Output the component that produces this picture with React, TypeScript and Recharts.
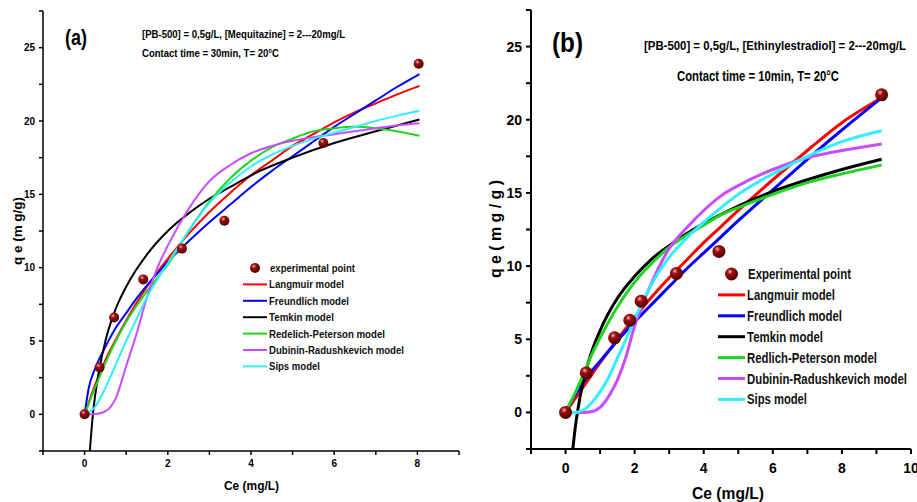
import React from "react";
import {
  ComposedChart,
  Line,
  Scatter,
  XAxis,
  YAxis,
} from "recharts";

const FONT = "'Liberation Sans', Arial, sans-serif";

// ---- panel (a) : Mequitazine ----
const aExpX = [0, 0.36, 0.71, 1.41, 2.34, 3.36, 5.74, 8.03];
const aExpY = [0, 3.2, 6.6, 9.2, 11.3, 13.2, 18.5, 23.9];

const aCurveX = [0, 0.25, 0.5, 0.75, 1, 1.25, 1.5, 1.75, 2, 2.5, 3, 3.5, 4, 4.5, 5, 5.5, 6, 6.5, 7, 7.5, 8.05];
const aLangmuir = [0, 2.0, 3.7, 5.1, 6.4, 7.6, 8.7, 9.7, 10.6, 12.3, 13.8, 15.1, 16.3, 17.3, 18.3, 19.1, 19.9, 20.6, 21.2, 21.8, 22.4];
const aRedlich = [0, 1.8, 3.5, 5.0, 6.3, 7.4, 8.4, 9.3, 10.2, 12.5, 14.5, 16.1, 17.3, 18.2, 18.8, 19.3, 19.5, 19.6, 19.5, 19.3, 19.0];
const aDubinin = [0, 0.02, 0.2, 1.1, 3.3, 5.5, 8.0, 10.0, 11.5, 14.0, 15.9, 17.0, 17.8, 18.3, 18.65, 18.9, 19.1, 19.3, 19.5, 19.7, 19.85];
const aSips = [0, 0.5, 1.8, 3.4, 5.0, 6.5, 8.0, 9.2, 10.3, 12.5, 14.4, 15.8, 16.9, 17.7, 18.3, 18.8, 19.2, 19.6, 20.0, 20.35, 20.7];

const aFreundX = [0, 0.1, 0.25, 0.5, 0.75, 1, 1.25, 1.5, 1.75, 2, 2.5, 3, 3.5, 4, 4.5, 5, 5.5, 6, 6.5, 7, 7.5, 8.05];
const aFreundlich = [0, 1.8, 3.1, 4.6, 5.9, 6.9, 7.9, 8.8, 9.6, 10.4, 11.8, 13.1, 14.3, 15.5, 16.6, 17.6, 18.6, 19.6, 20.5, 21.4, 22.3, 23.2];

const aTemkinX = [0.125, 0.2, 0.25, 0.35, 0.5, 0.75, 1, 1.5, 2, 2.5, 3, 3.5, 4, 5, 6, 7, 8.05];
const aTemkin = [-2.5, 0, 1.2, 3.0, 5.0, 7.2, 8.7, 10.9, 12.5, 13.7, 14.7, 15.5, 16.3, 17.5, 18.5, 19.3, 20.1];

// ---- panel (b) : Ethinylestradiol ----
const bExpX = [0, 0.6, 1.42, 1.86, 2.19, 3.21, 4.44, 9.15];
const bExpY = [0, 2.7, 5.1, 6.3, 7.6, 9.5, 11.0, 21.7];

const bCurveX = [0, 0.25, 0.5, 0.75, 1, 1.25, 1.5, 1.75, 2, 2.25, 2.5, 3, 3.5, 4, 4.5, 5, 6, 7, 8, 9.15];
const bLangmuir = [0, 0.85, 1.7, 2.55, 3.4, 4.2, 5.0, 5.75, 6.5, 7.2, 7.9, 9.2, 10.4, 11.6, 12.7, 13.8, 15.9, 17.9, 19.8, 21.5];
const bFreundlich = [0, 1.1, 2.0, 2.8, 3.5, 4.2, 4.9, 5.55, 6.2, 6.8, 7.4, 8.6, 9.8, 10.9, 12.0, 13.1, 15.2, 17.3, 19.3, 21.5];
const bRedlich = [0, 1.2, 2.5, 3.9, 5.1, 6.2, 7.2, 8.1, 8.9, 9.6, 10.2, 11.3, 12.1, 12.8, 13.5, 14.0, 14.9, 15.7, 16.3, 16.9];
const bDubinin = [0, 0, 0, 0.05, 0.35, 1.1, 2.2, 3.8, 5.9, 7.5, 8.9, 11.2, 12.6, 13.8, 14.8, 15.5, 16.6, 17.4, 17.9, 18.35];
const bSips = [0, 0, 0.15, 0.65, 1.4, 2.4, 3.7, 5.0, 6.4, 7.6, 8.8, 10.6, 11.9, 13.0, 14.0, 14.9, 16.3, 17.5, 18.5, 19.25];

const bTemkinX = [0.21, 0.3, 0.35, 0.5, 0.75, 1, 1.5, 2, 2.5, 3, 3.5, 4, 5, 6, 7, 8, 9.15];
const bTemkin = [-2.5, -0.7, 0.1, 2.0, 4.1, 5.6, 7.8, 9.3, 10.5, 11.4, 12.2, 12.9, 14.1, 15.1, 15.9, 16.6, 17.3];

// axis ticks
const aXTicks = [-1, 0, 1, 2, 3, 4, 5, 6, 7, 8, 9];
const bXTicks = [-1, 0, 1, 2, 3, 4, 5, 6, 7, 8, 9, 10];
const yTicks = [-2.5, 0, 2.5, 5, 7.5, 10, 12.5, 15, 17.5, 20, 22.5, 25, 27.5];

const legendA = ["experimental point", "Langmuir model", "Freundlich model", "Temkin model", "Redelich-Peterson model", "Dubinin-Radushkevich model", "Sips model"];
const legendB = ["Experimental point", "Langmuir model", "Freundlich model", "Temkin model", "Redlich-Peterson model", "Dubinin-Radushkevich model", "Sips model"];
// measured text widths (px) so the narrow bold look of the original is kept
const legendAW = [85, 75, 80, 65, 116, 135, 51];
const legendBW = [103, 88, 95, 76, 130, 160, 60];

const COLORS = ["#ff0000", "#0000ff", "#000000", "#22d422", "#c84cff", "#33eeff"];

const zip = (xs: number[], ys: number[]) => xs.map((x, i) => ({ x, y: ys[i] }));

const majorX = (v: number) => (v >= 0 && v % 2 === 0 ? String(v) : "");
const majorY = (v: number) => (v >= 0 && v % 5 === 0 ? String(v) : "");

function Ball({ cx, cy, r, id }: any) {
  return <circle cx={cx} cy={cy} r={r} fill={`url(#${id})`} />;
}

function Panel({ left, width, plotLeft, plotRight, top, bottom, xMax, xTicks, small, series, exp }: any) {
  const fs = small ? 10 : 14;
  const lw = small ? 2 : 3;
  const frame = small ? 1.5 : 2;
  const gid = small ? "ballA" : "ballB";
  const tick = { fontSize: fs, fontWeight: "bold", fill: "#000", fontFamily: FONT };
  return (
    <div style={{ position: "absolute", left, top: 0 }}>
      <ComposedChart
        width={width}
        height={502}
        margin={{ top, right: width - plotRight, bottom: 502 - bottom - 40, left: 0 }}
      >
        <defs>
          <radialGradient id={gid} cx="38%" cy="32%" r="70%">
            <stop offset="0%" stopColor="#f4b4b4" />
            <stop offset="30%" stopColor="#a01010" />
            <stop offset="100%" stopColor="#4a0000" />
          </radialGradient>
        </defs>
        <XAxis
          type="number"
          dataKey="x"
          domain={[-1, xMax]}
          ticks={xTicks}
          interval={0}
          tickFormatter={majorX}
          height={40}
          tick={tick}
          tickSize={small ? 4 : 5}
          tickMargin={small ? 5 : 9}
          stroke="#000"
          strokeWidth={frame}
          allowDataOverflow
        />
        <XAxis xAxisId="top" orientation="top" type="number" domain={[-1, xMax]} height={0} tick={false} tickLine={false} stroke="#000" strokeWidth={frame} />
        <YAxis
          type="number"
          dataKey="y"
          domain={[-2.5, 27.5]}
          ticks={yTicks}
          interval={0}
          tickFormatter={majorY}
          width={plotLeft}
          tick={tick}
          tickSize={small ? 4 : 5}
          tickMargin={4}
          stroke="#000"
          strokeWidth={frame}
          allowDataOverflow
        />
        <YAxis yAxisId="right" orientation="right" type="number" domain={[-2.5, 27.5]} width={0} tick={false} tickLine={false} stroke="#000" strokeWidth={frame} />
        {series.map((s: any, i: number) => (
          <Line
            key={i}
            data={s}
            dataKey="y"
            type="monotone"
            stroke={COLORS[i]}
            strokeWidth={lw}
            dot={false}
            activeDot={false}
            isAnimationActive={false}
          />
        ))}
        <Scatter
          data={exp}
          dataKey="y"
          isAnimationActive={false}
          shape={(p: any) => <Ball cx={p.cx} cy={p.cy} r={small ? 5 : 6.5} id={gid} />}
        />
      </ComposedChart>
    </div>
  );
}

function Txt({ w, children, ...rest }: any) {
  return (
    <text {...rest} textLength={w} lengthAdjust="spacingAndGlyphs">
      {children}
    </text>
  );
}

function Legend({ x, y0, dy, lineLen, fs, lw, r, labels, widths, gid }: any) {
  return (
    <g fontFamily={FONT} fontWeight="bold" fill="#111">
      {labels.map((t: string, i: number) => {
        const y = y0 + i * dy;
        return (
          <g key={i}>
            {i === 0 ? (
              <circle cx={x + lineLen / 2} cy={y} r={r} fill={`url(#${gid})`} />
            ) : (
              <line x1={x} x2={x + lineLen} y1={y} y2={y} stroke={COLORS[i - 1]} strokeWidth={lw} />
            )}
            <Txt x={x + lineLen + (i === 0 ? 3 : 2)} y={y + fs * 0.36} fontSize={fs} w={widths[i]}>
              {t}
            </Txt>
          </g>
        );
      })}
    </g>
  );
}

export default function App() {
  const aSeries = [
    zip(aCurveX, aLangmuir),
    zip(aFreundX, aFreundlich),
    zip(aTemkinX, aTemkin),
    zip(aCurveX, aRedlich),
    zip(aCurveX, aDubinin),
    zip(aCurveX, aSips),
  ];
  const bSeries = [
    zip(bCurveX, bLangmuir),
    zip(bCurveX, bFreundlich),
    zip(bTemkinX, bTemkin),
    zip(bCurveX, bRedlich),
    zip(bCurveX, bDubinin),
    zip(bCurveX, bSips),
  ];
  return (
    <div style={{ position: "absolute", left: 0, top: 0, width: 917, height: 502, background: "#fff", overflow: "hidden" }}>
      <Panel left={0} width={470} plotLeft={43} plotRight={459} top={11} bottom={451} xMax={9} xTicks={aXTicks} small series={aSeries} exp={zip(aExpX, aExpY)} />
      <Panel left={460} width={457} plotLeft={71} plotRight={451} top={10} bottom={449} xMax={10} xTicks={bXTicks} small={false} series={bSeries} exp={zip(bExpX, bExpY)} />
      <svg width={917} height={502} style={{ position: "absolute", left: 0, top: 0, pointerEvents: "none" }}>
        <g fontFamily={FONT} fontWeight="bold" fill="#000">
          <Txt x={65} y={45} fontSize={22} w={22}>(a)</Txt>
          <Txt x={142} y={38} fontSize={11} w={203}>[PB-500] = 0,5g/L, [Mequitazine] = 2---20mg/L</Txt>
          <Txt x={142} y={57} fontSize={11} w={137}>Contact time = 30min, T= 20°C</Txt>
          <Txt x={224} y={490} fontSize={13} w={55}>Ce (mg/L)</Txt>
          <Txt transform="translate(22,265) rotate(-90)" fontSize={13} w={68}>q e  (m g/g)</Txt>

          <Txt x={552} y={52} fontSize={28} w={31}>(b)</Txt>
          <Txt x={644} y={50} fontSize={13.5} w={262}>[PB-500] = 0,5g/L, [Ethinylestradiol] = 2---20mg/L</Txt>
          <Txt x={677} y={81} fontSize={14} w={162}>Contact time = 10min, T= 20°C</Txt>
          <Txt x={692} y={499} fontSize={17} w={72}>Ce (mg/L)</Txt>
          <Txt transform="translate(501,278) rotate(-90)" fontSize={17} w={98}>q e  ( m g / g )</Txt>
        </g>
        <Legend x={243} y0={268} dy={16.4} lineLen={24} fs={11} lw={2} r={5} labels={legendA} widths={legendAW} gid="ballA" />
        <Legend x={718} y0={274} dy={20.9} lineLen={27} fs={14} lw={3} r={6.5} labels={legendB} widths={legendBW} gid="ballB" />
      </svg>
    </div>
  );
}
